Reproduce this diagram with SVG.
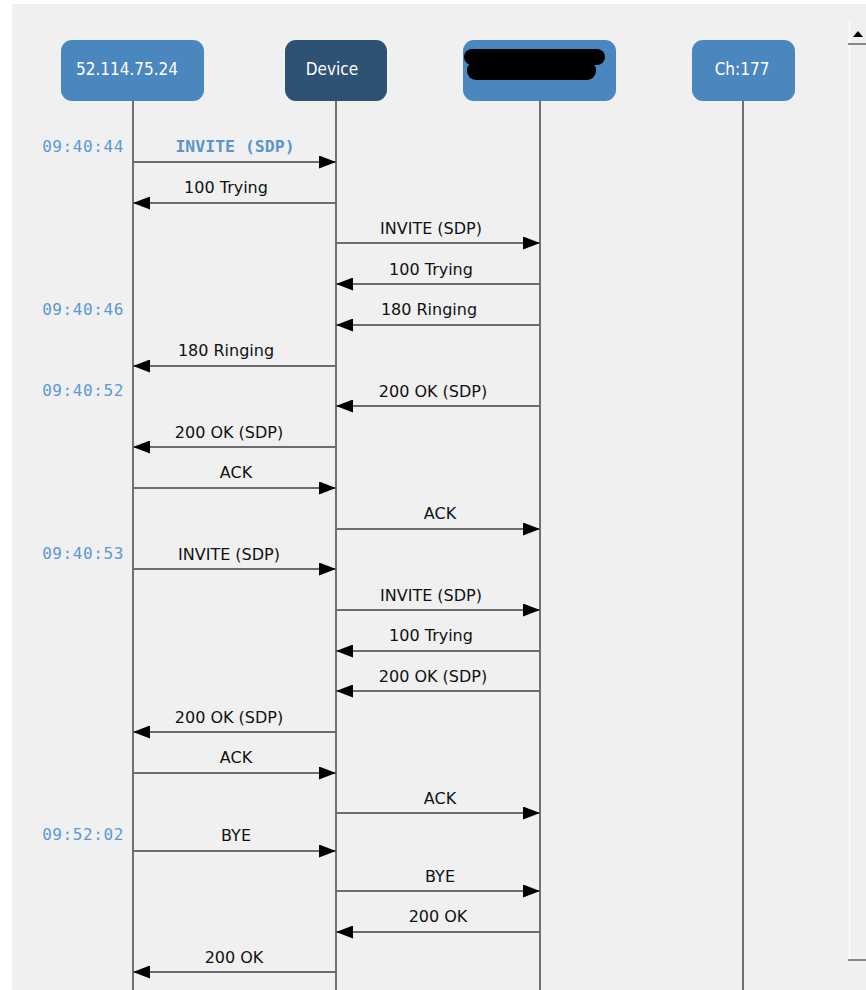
<svg xmlns="http://www.w3.org/2000/svg" width="866" height="990" viewBox="0 0 866 990">
<defs>
<style>
.node{fill:#4a87be}
.dark{fill:#2d5274}
.nl{font-family:"DejaVu Sans Condensed","DejaVu Sans",sans-serif;font-stretch:condensed;font-size:17px;fill:#ffffff;text-anchor:middle}
.life{stroke:#707070;stroke-width:2}
.msg{stroke:#6c6c6c;stroke-width:2;fill:none}
.lbl{font-family:"DejaVu Sans",sans-serif;font-size:16px;fill:#111;text-anchor:middle}
.lblb{font-family:"DejaVu Sans Mono",monospace;font-weight:bold;font-size:16.5px;fill:#5b95c9;text-anchor:middle}
.ts{font-family:"DejaVu Sans Mono",monospace;font-size:16px;letter-spacing:0.6px;fill:#5b9ad3;text-anchor:end}
</style>
<marker id="ah" viewBox="0 0 17 13" refX="17" refY="6.5" markerWidth="17" markerHeight="13" markerUnits="userSpaceOnUse" orient="auto">
<path d="M0,0 L17,6.5 L0,13 Z" fill="#000"/>
</marker>
</defs>
<rect x="0" y="0" width="866" height="990" fill="#ffffff"/>
<rect x="12" y="4" width="854" height="986" fill="#f0f0f0"/>
<g id="scrollbar">
<rect x="849" y="22" width="17" height="968" fill="#f0f0f0"/>
<line x1="849.5" y1="22" x2="849.5" y2="960" stroke="#ffffff" stroke-width="1.5"/>
<path d="M853,37 L858,31 L863,37 Z" fill="#000"/>
<line x1="848" y1="44" x2="866" y2="44" stroke="#888" stroke-width="2"/>
<line x1="848" y1="960" x2="866" y2="960" stroke="#888" stroke-width="2"/>
</g>
<g id="lifelines">
<line class="life" x1="133" y1="100" x2="133" y2="990"/>
<line class="life" x1="336" y1="100" x2="336" y2="990"/>
<line class="life" x1="540" y1="100" x2="540" y2="990"/>
<line class="life" x1="743" y1="100" x2="743" y2="990"/>
</g>
<g id="n1"><rect class="node" x="61" y="40" width="143" height="61" rx="11"/><text class="nl" x="127" y="75">52.114.75.24</text></g>
<g id="n2"><rect class="dark" x="285" y="40" width="102" height="61" rx="11"/><text class="nl" x="332" y="75">Device</text></g>
<g id="n3"><rect class="node" x="463" y="40" width="153" height="61" rx="11"/>
<rect x="464" y="49" width="141" height="16" rx="8" fill="#000"/>
<rect x="467" y="61" width="129" height="19" rx="9" fill="#000"/></g>
<g id="n4"><rect class="node" x="692" y="40" width="103" height="61" rx="11"/><text class="nl" x="742" y="75">Ch:177</text></g>
<g id="timestamps">
<text class="ts" x="124" y="152">09:40:44</text>
<text class="ts" x="124" y="315">09:40:46</text>
<text class="ts" x="124" y="396">09:40:52</text>
<text class="ts" x="124" y="559">09:40:53</text>
<text class="ts" x="124" y="840">09:52:02</text>
</g>
<g id="connectors">
<line class="msg" x1="133" y1="162" x2="336" y2="162" marker-end="url(#ah)"/>
<line class="msg" x1="336" y1="203" x2="133" y2="203" marker-end="url(#ah)"/>
<line class="msg" x1="336" y1="243" x2="540" y2="243" marker-end="url(#ah)"/>
<line class="msg" x1="540" y1="284" x2="336" y2="284" marker-end="url(#ah)"/>
<line class="msg" x1="540" y1="325" x2="336" y2="325" marker-end="url(#ah)"/>
<line class="msg" x1="336" y1="366" x2="133" y2="366" marker-end="url(#ah)"/>
<line class="msg" x1="540" y1="406" x2="336" y2="406" marker-end="url(#ah)"/>
<line class="msg" x1="336" y1="447" x2="133" y2="447" marker-end="url(#ah)"/>
<line class="msg" x1="133" y1="488" x2="336" y2="488" marker-end="url(#ah)"/>
<line class="msg" x1="336" y1="529" x2="540" y2="529" marker-end="url(#ah)"/>
<line class="msg" x1="133" y1="569" x2="336" y2="569" marker-end="url(#ah)"/>
<line class="msg" x1="336" y1="610" x2="540" y2="610" marker-end="url(#ah)"/>
<line class="msg" x1="540" y1="651" x2="336" y2="651" marker-end="url(#ah)"/>
<line class="msg" x1="540" y1="691" x2="336" y2="691" marker-end="url(#ah)"/>
<line class="msg" x1="336" y1="732" x2="133" y2="732" marker-end="url(#ah)"/>
<line class="msg" x1="133" y1="773" x2="336" y2="773" marker-end="url(#ah)"/>
<line class="msg" x1="336" y1="813" x2="540" y2="813" marker-end="url(#ah)"/>
<line class="msg" x1="133" y1="851" x2="336" y2="851" marker-end="url(#ah)"/>
<line class="msg" x1="336" y1="891" x2="540" y2="891" marker-end="url(#ah)"/>
<line class="msg" x1="540" y1="932" x2="336" y2="932" marker-end="url(#ah)"/>
<line class="msg" x1="336" y1="972" x2="133" y2="972" marker-end="url(#ah)"/>
</g>
<g id="labels">
<text class="lblb" x="235" y="152">INVITE (SDP)</text>
<text class="lbl" x="226" y="193">100 Trying</text>
<text class="lbl" x="431" y="234">INVITE (SDP)</text>
<text class="lbl" x="431" y="275">100 Trying</text>
<text class="lbl" x="429" y="315">180 Ringing</text>
<text class="lbl" x="226" y="356">180 Ringing</text>
<text class="lbl" x="433" y="397">200 OK (SDP)</text>
<text class="lbl" x="229" y="438">200 OK (SDP)</text>
<text class="lbl" x="236" y="478">ACK</text>
<text class="lbl" x="440" y="519">ACK</text>
<text class="lbl" x="229" y="560">INVITE (SDP)</text>
<text class="lbl" x="431" y="601">INVITE (SDP)</text>
<text class="lbl" x="431" y="641">100 Trying</text>
<text class="lbl" x="433" y="682">200 OK (SDP)</text>
<text class="lbl" x="229" y="723">200 OK (SDP)</text>
<text class="lbl" x="236" y="763">ACK</text>
<text class="lbl" x="440" y="804">ACK</text>
<text class="lbl" x="236" y="841">BYE</text>
<text class="lbl" x="440" y="882">BYE</text>
<text class="lbl" x="438" y="922">200 OK</text>
<text class="lbl" x="234" y="963">200 OK</text>
</g>
</svg>
